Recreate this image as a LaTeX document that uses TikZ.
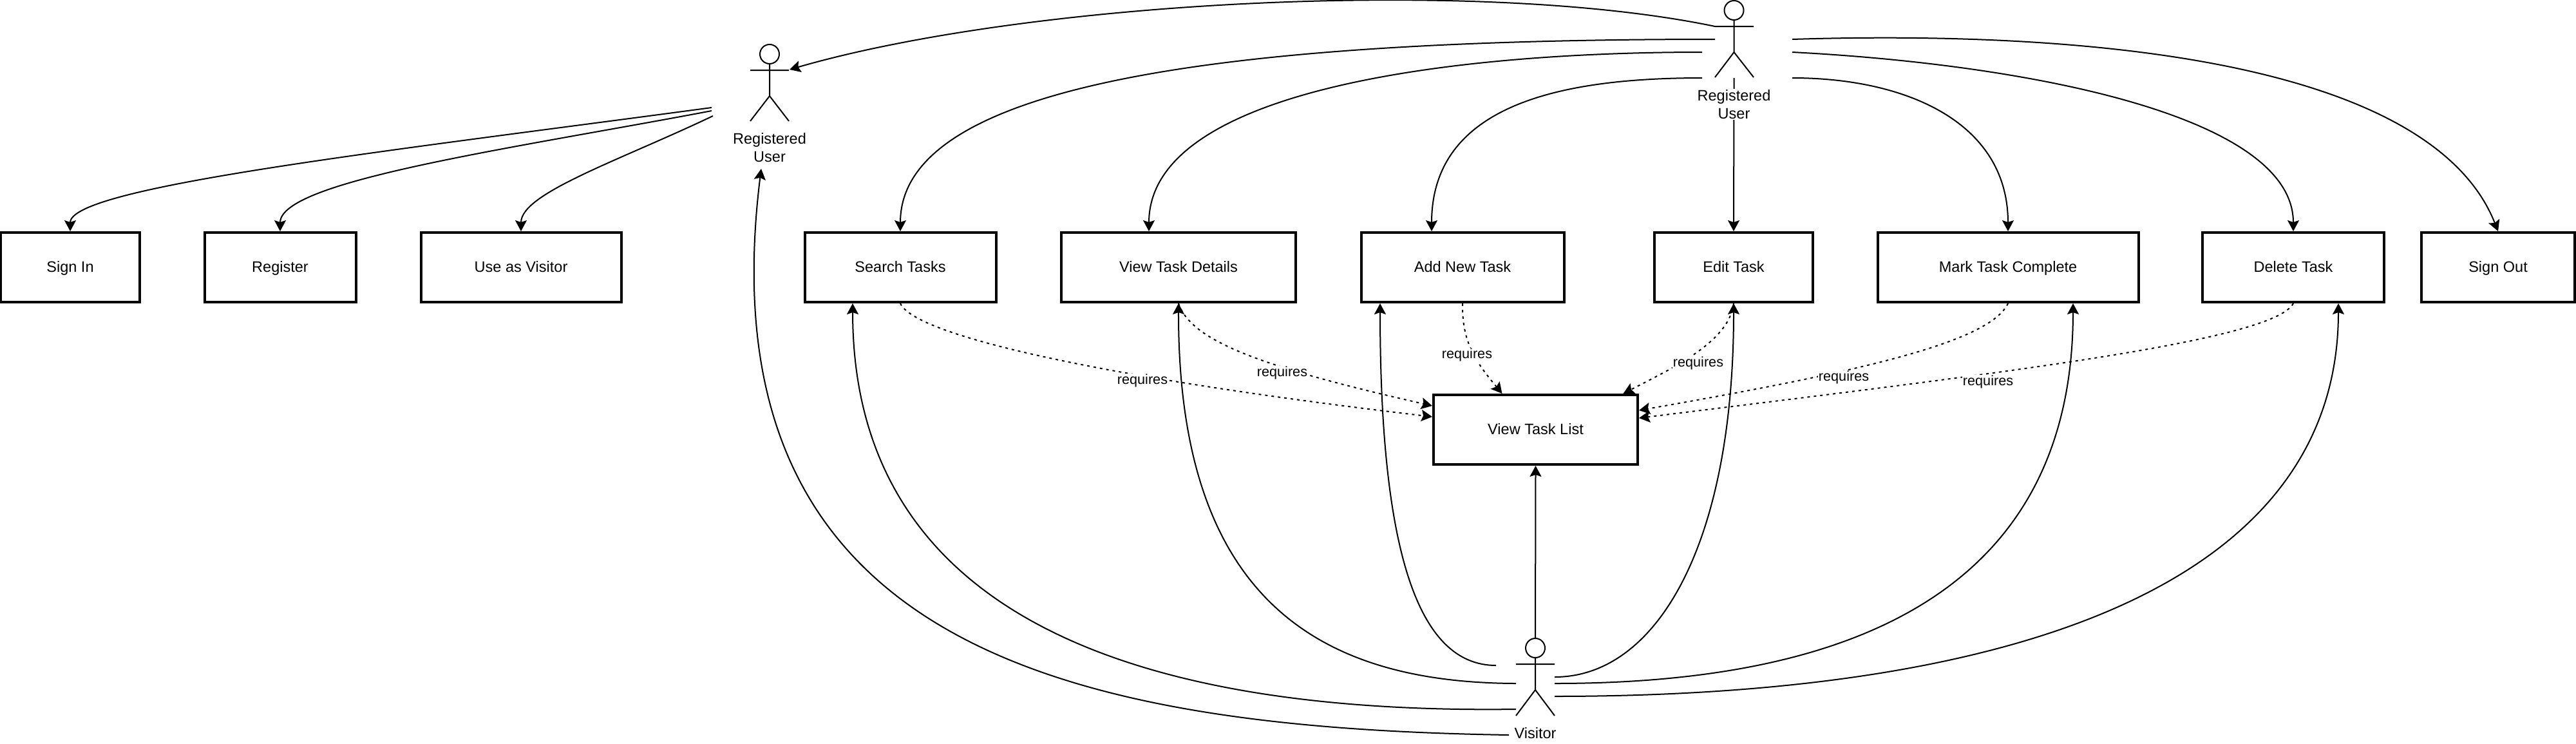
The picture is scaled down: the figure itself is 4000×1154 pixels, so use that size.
\documentclass[tikz,border=0pt]{standalone}
\usepackage{fontspec}
\setmainfont{Liberation Sans}
\usetikzlibrary{arrows.meta,calc}
\def\pxu{0.01cm}
\tikzset{
  x=0.01cm,y=-0.01cm,
  thin line/.style={line width=2*\pxu,draw=black},
  usecase/.style={draw=black,line width=4*\pxu,fill=white,minimum height=108*\pxu,inner sep=0pt,text height=5.7pt,text depth=1.45pt,font=\fontsize{6.69}{8}\selectfont},
  assoc/.style={line width=2*\pxu,draw=black,-{Stealth[length=17*\pxu,width=18*\pxu,inset=3*\pxu]}},
  req/.style={assoc,dash pattern=on 4*\pxu off 6*\pxu},
  reqlabel/.style={fill=white,inner sep=0.3pt,font=\fontsize{6.15}{7.5}\selectfont},
  actorlabel/.style={fill=white,inner sep=0.3pt,align=center,font=\fontsize{6.69}{8}\selectfont},
  actorhead/.style={circle,draw=black,line width=2*\pxu,minimum size=30*\pxu,inner sep=0pt,outer sep=0pt},
}
\begin{document}
\begin{tikzpicture}
\path[fill=white,use as bounding box] (0,0) rectangle (4000,1154);
% use cases
\node[usecase,minimum width=215*\pxu] (signin) at (109,415) {Sign In};
\node[usecase,minimum width=235*\pxu] (register) at (435,415) {Register};
\node[usecase,minimum width=311*\pxu] (visitoruse) at (809,415) {Use as Visitor};
\node[usecase,minimum width=297*\pxu] (search) at (1398,415) {Search Tasks};
\node[usecase,minimum width=364*\pxu] (details) at (1830,415) {View Task Details};
\node[usecase,minimum width=315*\pxu] (add) at (2271,415) {Add New Task};
\node[usecase,minimum width=246*\pxu] (edit) at (2692,415) {Edit Task};
\node[usecase,minimum width=405*\pxu] (mark) at (3118,415) {Mark Task Complete};
\node[usecase,minimum width=282*\pxu] (delete) at (3561,415) {Delete Task};
\node[usecase,minimum width=238*\pxu] (signout) at (3879,415) {Sign Out};
\node[usecase,minimum width=317*\pxu] (list) at (2384.5,667) {View Task List};
% actors
\node[actorhead] (headL) at (1195,84) {};
\draw[thin line] (headL.south) -- (1195,149) (1165,109) -- (1225,109) (1165,188) -- (1195,149) -- (1225,188);
\node[actorhead] (headT) at (2692.5,16) {};
\draw[thin line] (headT.south) -- (2692.5,81) (2663,41) -- (2723,41) (2663,120) -- (2692.5,81) -- (2723,120);
\node[actorhead] (headV) at (2384,1006) {};
\draw[thin line] (headV.south) -- (2384,1071) (2354,1031) -- (2414,1031) (2354,1111) -- (2384,1071) -- (2414,1111);
% connector ends at actors
\coordinate (tArm) at (2663,41);
\coordinate (tL1) at (2663,61);
\coordinate (tL2) at (2643,81);
\coordinate (tL3) at (2643,121);
\coordinate (tFoot) at (2692.5,121);
\coordinate (tR1) at (2783,61);
\coordinate (tR2) at (2783,81);
\coordinate (tR3) at (2783,121);
\coordinate (lArm) at (1226,108);
\coordinate (lS1) at (1105,167);
\coordinate (lS2) at (1105,172);
\coordinate (lS3) at (1107,180);
\coordinate (lLabel) at (1182,262);
\coordinate (vA) at (2323,1033);
\coordinate (vD) at (2354,1061);
\coordinate (vS) at (2354,1101);
\coordinate (vU) at (2343,1141);
\coordinate (vE) at (2414,1051);
\coordinate (vM) at (2414,1061);
\coordinate (vX) at (2414,1081);
% registered user (top)
\draw[assoc] (tArm) .. controls (2300,-35) and (1600,0) .. (lArm);
\draw[assoc] (tL1) .. controls (1900,61) and (1398,130) .. (search.north);
\draw[assoc] (tL2) .. controls (2250,81) and (1784,140) .. ($(details.north)+(-46,0)$);
\draw[assoc] (tL3) .. controls (2430,121) and (2223,160) .. ($(add.north)+(-48,0)$);
\draw[assoc] (tFoot) -- (edit.north);
\draw[assoc] (tR3) .. controls (2960,121) and (3118,190) .. (mark.north);
\draw[assoc] (tR2) .. controls (3150,100) and (3561,180) .. (delete.north);
\draw[assoc] (tR1) .. controls (3300,45) and (3780,110) .. (signout.north);
% registered user (left)
\draw[assoc] (lS1) .. controls (600,235) and (109,290) .. (signin.north);
\draw[assoc] (lS2) .. controls (800,230) and (435,280) .. (register.north);
\draw[assoc] (lS3) .. controls (960,250) and (809,300) .. (visitoruse.north);
% visitor
\draw[assoc] (headV.north) -- (list.south);
\draw[assoc] (vA) .. controls (2200,1033) and (2143,850) .. ($(add.south)+(-128,0)$);
\draw[assoc] (vD) .. controls (2050,1060) and (1829,932) .. (details.south);
\draw[assoc] (vS) .. controls (1700,1110) and (1324,920) .. ($(search.south)+(-74,0)$);
\draw[assoc] (vU) .. controls (1650,1130) and (1090,1000) .. (lLabel);
\draw[assoc] (vE) .. controls (2570,1051) and (2692,850) .. (edit.south);
\draw[assoc] (vM) .. controls (3000,1061) and (3219,830) .. ($(mark.south)+(101,0)$);
\draw[assoc] (vX) .. controls (3100,1081) and (3631,920) .. ($(delete.south)+(70,0)$);
% requires
\draw[req] (search.south) .. controls (1420,520) and (1700,585) .. ($(list.west)+(0,-20)$);
\draw[req] (details.south) .. controls (1850,530) and (1960,570) .. ($(list.west)+(0,-37)$);
\draw[req] (add.south) .. controls (2270,530) and (2290,560) .. ($(list.north)+(-52,0)$);
\draw[req] (edit.south) .. controls (2685,530) and (2600,570) .. ($(list.north)+(136,0)$);
\draw[req] (mark.south) .. controls (3090,530) and (2900,575) .. ($(list.east)+(0,-30)$);
\draw[req] (delete.south) .. controls (3530,530) and (3100,580) .. ($(list.east)+(0,-18)$);
\node[reqlabel] (r1) at (1774,591) {requires};
\node[reqlabel] (r2) at (1991,579) {requires};
\node[reqlabel] (r3) at (2278,551) {requires};
\node[reqlabel] (r4) at (2637,564) {requires};
\node[reqlabel] (r5) at (2863,586) {requires};
\node[reqlabel] (r6) at (3087,593) {requires};
% actor labels
\node[actorlabel] (labL) at (1195,229) {Registered\\User};
\node[actorlabel] (labT) at (2692.5,162) {Registered\\User};
\node[actorlabel] (labV) at (2384,1138) {Visitor};
\end{tikzpicture}
\end{document}
